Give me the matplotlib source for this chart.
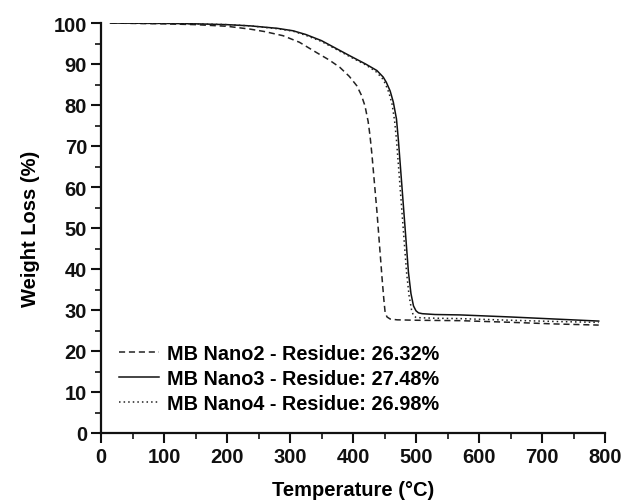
import matplotlib
matplotlib.use("Agg")
import matplotlib.pyplot as plt
from matplotlib.ticker import MultipleLocator

plt.rcParams['font.family'] = ['Liberation Sans', 'DejaVu Sans']
plt.rcParams['font.weight'] = 'bold'

# Data
t_nano2 = [15, 50, 100, 150, 200, 237, 260, 289, 315, 342, 362, 379, 394, 406, 413, 419, 424, 427, 430, 434, 438, 442, 446, 449, 451, 454, 459, 470, 500, 570, 650, 720, 790]
w_nano2 = [100, 99.9, 99.8, 99.6, 99.2, 98.5, 97.9, 96.9, 95.3, 92.8, 91.0, 89.2, 87.0, 84.7, 82.5, 79.8, 76.0, 72.5, 68.0, 61.0, 54.0, 46.0, 38.0, 32.5, 29.4, 28.3, 27.8, 27.6, 27.5, 27.4, 27.0, 26.6, 26.32]

t_nano3 = [15, 50, 100, 150, 200, 237, 280, 305, 325, 350, 395, 420, 438, 448, 453, 459, 464, 469, 472, 476, 480, 484, 488, 492, 496, 500, 504, 510, 530, 570, 650, 720, 790]
w_nano3 = [100, 99.95, 99.9, 99.8, 99.6, 99.3, 98.7, 98.1, 97.2, 95.7, 92.0, 90.0, 88.4, 86.8, 85.5, 83.4, 80.7, 76.6, 71.5, 63.5, 55.4, 47.3, 39.2, 34.0, 31.0, 29.8, 29.3, 29.1, 28.9, 28.8, 28.3, 27.8, 27.3]

t_nano4 = [15, 50, 100, 150, 200, 237, 280, 305, 325, 350, 395, 420, 436, 446, 451, 457, 462, 466, 469, 473, 477, 481, 485, 489, 493, 496, 500, 508, 530, 570, 650, 720, 790]
w_nano4 = [100, 99.95, 99.9, 99.8, 99.6, 99.3, 98.6, 98.0, 97.0, 95.5, 91.8, 89.8, 88.2, 86.6, 85.3, 83.0, 80.2, 76.2, 71.5, 63.5, 55.4, 47.3, 39.2, 33.5, 30.0, 28.6, 28.2, 28.1, 28.0, 27.9, 27.5, 27.2, 26.98]

labels = ["MB Nano2 - Residue: 26.32%",
          "MB Nano3 - Residue: 27.48%",
          "MB Nano4 - Residue: 26.98%"]

fig = plt.figure(figsize=(6.24, 5.02), dpi=100)
ax = fig.add_axes([101/624, 1 - 434/502, 504/624, 410/502])

ax.plot(t_nano2, w_nano2, color='#222222', lw=1.1, ls=(0, (4, 2.5)), label=labels[0])
ax.plot(t_nano3, w_nano3, color='#111111', lw=1.1, ls='-', label=labels[1])
ax.plot(t_nano4, w_nano4, color='#222222', lw=1.1, ls=(0, (1, 2)), label=labels[2])

ax.set_xlim(0, 800)
ax.set_ylim(0, 100)
ax.xaxis.set_major_locator(MultipleLocator(100))
ax.xaxis.set_minor_locator(MultipleLocator(50))
ax.yaxis.set_major_locator(MultipleLocator(10))
ax.yaxis.set_minor_locator(MultipleLocator(5))

for s in ['top', 'right']:
    ax.spines[s].set_visible(False)
for s in ['left', 'bottom']:
    ax.spines[s].set_linewidth(1.6)
    ax.spines[s].set_color('#111111')

ax.tick_params(which='major', direction='out', length=7, width=1.5, labelsize=14.5, pad=3, colors='#111111')
ax.tick_params(which='minor', direction='out', length=4, width=1.2, colors='#111111')
for lab in ax.get_xticklabels() + ax.get_yticklabels():
    lab.set_fontweight('bold')

ax.set_xlabel('Temperature (°C)', fontsize=14.5, fontweight='bold', labelpad=10)
ax.set_ylabel('Weight Loss (%)', fontsize=14.5, fontweight='bold', labelpad=10)

leg = ax.legend(loc='lower left', bbox_to_anchor=(0.0, 0.005), frameon=False,
                handlelength=2.0, handletextpad=0.4, labelspacing=0.3,
                prop={'weight': 'bold', 'size': 14.3})

fig.savefig('out.png', dpi=100)
